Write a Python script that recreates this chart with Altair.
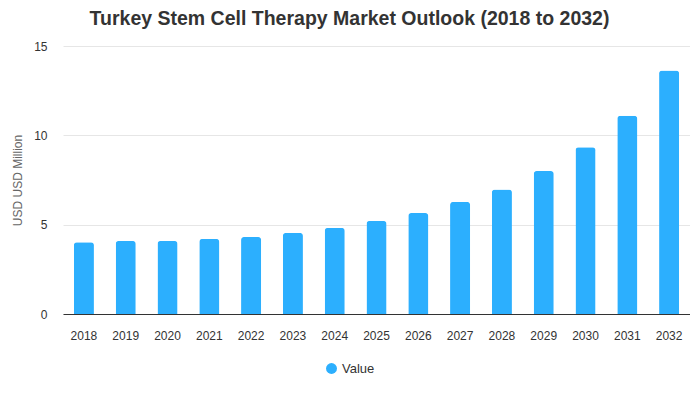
import altair as alt
import pandas as pd

years = ["2018", "2019", "2020", "2021", "2022", "2023", "2024", "2025",
         "2026", "2027", "2028", "2029", "2030", "2031", "2032"]
values = [4.02, 4.09, 4.09, 4.2, 4.31, 4.54, 4.82, 5.21, 5.65, 6.27,
          6.97, 8.0, 9.34, 11.1, 13.63]
series = ["Value"] * len(years)

df = pd.DataFrame({"Year": years, "Value": values, "Series": series})

chart = alt.Chart(df).mark_bar(
    cornerRadiusTopLeft=3, cornerRadiusTopRight=3
).encode(
    x=alt.X("Year:N", sort=years,
            scale=alt.Scale(paddingInner=0.52, paddingOuter=0.26),
            axis=alt.Axis(title=None, labelAngle=0, ticks=False,
                          domainColor="#333333", labelColor="#333333",
                          labelFontSize=12, labelPadding=16,
                          labelFont="Liberation Sans")),
    y=alt.Y("Value:Q", scale=alt.Scale(domain=[0, 15]),
            axis=alt.Axis(title="USD USD Million", values=[0, 5, 10, 15],
                          domain=False, ticks=False, gridColor="#e6e6e6",
                          labelColor="#333333", labelFontSize=12,
                          labelPadding=16, labelFont="Liberation Sans",
                          titleFont="Liberation Sans", titleFontSize=12,
                          titleFontWeight="normal", titleColor="#666666",
                          titlePadding=9)),
    color=alt.Color("Series:N",
                    scale=alt.Scale(domain=["Value"], range=["#2caffe"]),
                    legend=alt.Legend(title=None, orient="none",
                                      legendX=262, legendY=316,
                                      symbolType="circle", symbolSize=120,
                                      labelFontSize=13, labelColor="#333333",
                                      labelFont="Liberation Sans")),
).properties(
    width=627, height=268,
    title=alt.TitleParams("Turkey Stem Cell Therapy Market Outlook (2018 to 2032)",
                          font="Liberation Sans", fontSize=19.5, fontWeight="bold",
                          color="#333333", anchor="middle", dx=-27, offset=11),
    autosize=alt.AutoSizeParams(type="none"),
    padding={"left": 55, "top": 38, "right": 0, "bottom": 70},
).configure_view(stroke=None)

chart.save("out.html", embed_options={"renderer": "svg", "actions": False})
